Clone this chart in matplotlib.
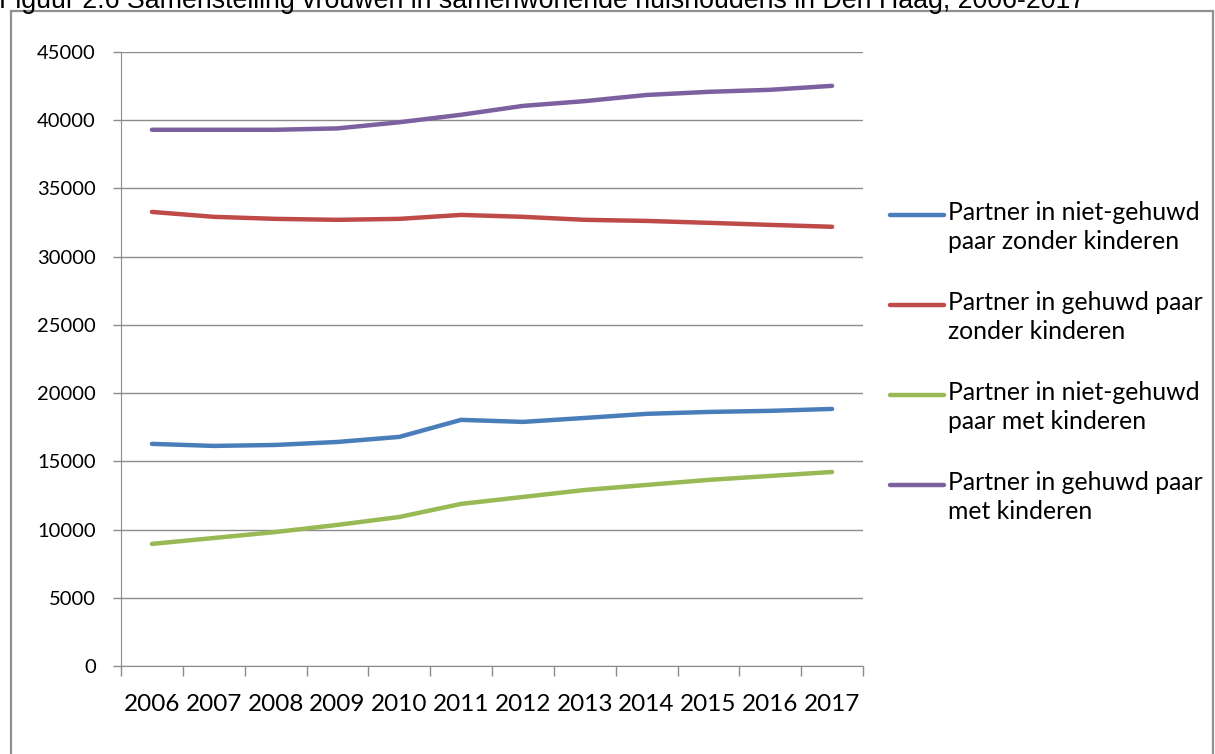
import matplotlib
matplotlib.use('Agg')
import matplotlib.pyplot as plt
from matplotlib.patches import Rectangle
from matplotlib.lines import Line2D

plt.rcParams['font.family'] = ['Lato', 'DejaVu Sans']

years = ['2006', '2007', '2008', '2009', '2010', '2011',
         '2012', '2013', '2014', '2015', '2016', '2017']

niet_gehuwd_zonder = [16280, 16130, 16200, 16420, 16790, 18040,
                      17890, 18180, 18480, 18620, 18700, 18840]
gehuwd_zonder = [33280, 32920, 32770, 32700, 32770, 33060,
                 32920, 32700, 32620, 32480, 32330, 32190]
niet_gehuwd_met = [8950, 9380, 9820, 10340, 10920, 11880,
                   12390, 12900, 13270, 13640, 13930, 14220]
gehuwd_met = [39300, 39300, 39300, 39400, 39850, 40400,
              41050, 41400, 41850, 42080, 42230, 42520]

labels = ['Partner in niet-gehuwd\npaar zonder kinderen',
          'Partner in gehuwd paar\nzonder kinderen',
          'Partner in niet-gehuwd\npaar met kinderen',
          'Partner in gehuwd paar\nmet kinderen']
colors = ['#4a7ebb', '#be4b48', '#98b954', '#7d60a0']

W, H = 1215, 754
fig = plt.figure(figsize=(W / 100, H / 100), dpi=100)

# grey frame around the chart
fig.patches.append(Rectangle((11 / W, -0.05), 1202 / W, 1 - 11 / H + 0.05,
                             transform=fig.transFigure, fill=False,
                             edgecolor='#909090', linewidth=1.6))

# title, cut off at the top as in the source
fig.text(-1 / W, 1 - 8 / H, 'Figuur 2.6 Samenstelling vrouwen in samenwonende huishoudens in Den Haag, 2006-2017',
         fontsize=19.3, family='Liberation Sans', va='baseline', ha='left')

ax = fig.add_axes([121 / W, 1 - 666 / H, (863 - 121) / W, (666 - 52) / H])

x = list(range(len(years)))
series = [niet_gehuwd_zonder, gehuwd_zonder, niet_gehuwd_met, gehuwd_met]
for vals, col in zip(series, colors):
    ax.plot(x, vals, color=col, linewidth=3.2, solid_capstyle='round')

ax.set_xlim(-0.5, len(years) - 0.5)
ax.set_ylim(0, 45000)
ax.set_yticks(range(0, 45001, 5000))
ax.set_xticks(x)
ax.set_xticklabels(years)
ax.set_xticks([i - 0.5 for i in range(len(years) + 1)], minor=True)
ax.tick_params(axis='x', which='major', length=0, pad=20, labelsize=17.5)
ax.tick_params(axis='x', which='minor', length=7, color='#8c8c8c', width=1)
ax.tick_params(axis='y', length=6, color='#8c8c8c', width=1, labelsize=14.5, pad=12)
ax.grid(axis='y', color='#8c8c8c', linewidth=1)
ax.set_axisbelow(True)
for s in ['top', 'right']:
    ax.spines[s].set_visible(False)
ax.spines['left'].set_color('#8c8c8c')
ax.spines['bottom'].set_color('#8c8c8c')

# legend, handle aligned with the first text line like Excel
for i, (lab, col) in enumerate(zip(labels, colors)):
    yy = 1 - (215 + 90 * i) / H
    fig.add_artist(Line2D([890 / W, 944 / W], [yy, yy], color=col, linewidth=3.2,
                          solid_capstyle='round', transform=fig.transFigure))
    fig.text(948 / W, yy + 14 / H, lab, fontsize=17.8, va='top', ha='left',
             linespacing=1.3)

fig.savefig('out.png', dpi=100)
